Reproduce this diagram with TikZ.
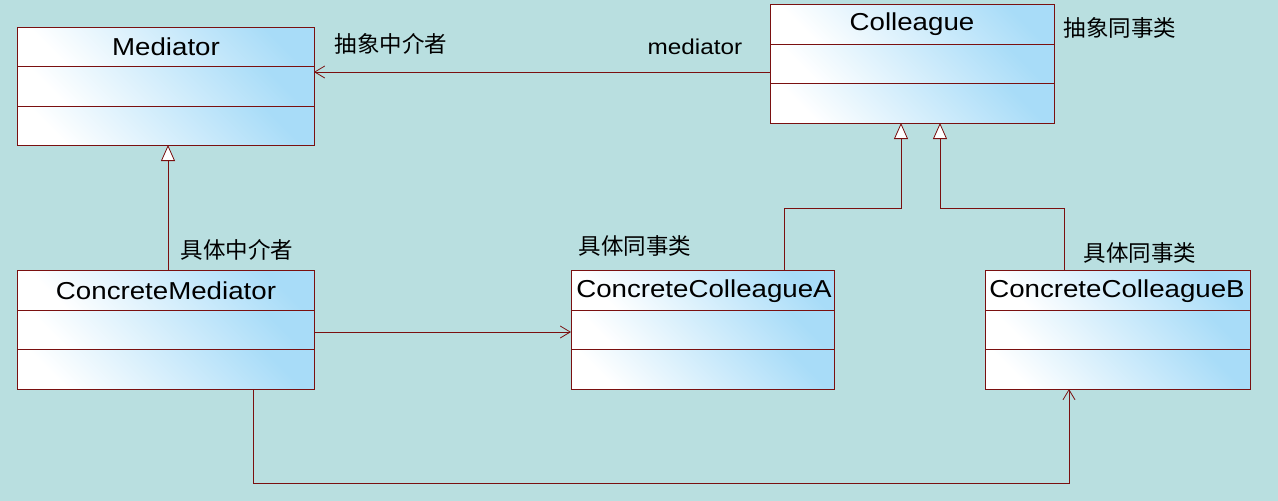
\documentclass[tikz,border=0pt]{standalone}
\usepackage{fontspec}
\setmainfont{Liberation Sans}[FakeStretch=1.13]
\newfontfamily\cjk{Noto Sans CJK SC}
\usetikzlibrary{arrows.meta}
\definecolor{bg}{HTML}{B9DFE0}
\definecolor{bd}{HTML}{7A1010}
\definecolor{lb}{HTML}{A8DCF8}
\tikzset{
  comp/.style={shade, left color=white, right color=lb, shading angle=135},
  cls/.style={draw=bd, line width=0.8pt, anchor=north west, inner sep=0pt},
  conn/.style={draw=bd, line width=0.8pt},
  gen/.style={conn, -{Triangle[open, length=16pt, width=14pt, fill=white]}},
  assoc/.style={conn, -{Straight Barb[length=10pt, width=12pt, line width=0.8pt]}},
  lbl/.style={font=\cjk\fontsize{22.5}{26}\selectfont, inner sep=0pt},
  ttl/.style={font=\fontsize{24.5}{27}\selectfont, inner sep=0pt}
}
\newcommand\umlcls[7]{%
  \fill[comp] (#2,#3) rectangle (#4,#6);
  \fill[comp] (#2,#6) rectangle (#4,#7);
  \fill[comp] (#2,#7) rectangle (#4,#5);
  \draw[bd, line width=0.8pt] (#2,#6) -- (#4,#6) (#2,#7) -- (#4,#7);
  \node[cls, minimum width={(#4-#2)*1pt}, minimum height={(#5-#3)*1pt}] (#1) at (#2,#3) {};
}
\begin{document}
\begin{tikzpicture}[x=1pt,y=-1pt]
\fill[bg] (0,0) rectangle (1278,501);
\useasboundingbox (0,0) rectangle (1278,501);
\umlcls{med}{17}{27}{314}{145}{66}{106}
\umlcls{col}{770}{4}{1054}{123}{44}{83}
\umlcls{cm}{17}{270}{314}{389}{310}{349}
\umlcls{cca}{571}{270}{834}{389}{310}{349}
\umlcls{ccb}{985}{270}{1250}{389}{310}{349}
\node[ttl] (tmed) at (166,47) {Mediator};
\node[ttl] (tcol) at (912,24) {Colleague};
\node[ttl] (tcm) at (166,291) {ConcreteMediator};
\node[ttl] (tcca) at (704,291) {ConcreteColleagueA};
\node[ttl] (tccb) at (1117,291) {ConcreteColleagueB};
\node[lbl] (l1) at (391,44) {抽象中介者};
\node[ttl, font=\fontsize{21.5}{24}\selectfont] (l2) at (695,47) {mediator};
\node[lbl] (l3) at (1120,28) {抽象同事类};
\node[lbl] (l4) at (237,250) {具体中介者};
\node[lbl] (l5) at (635,246) {具体同事类};
\node[lbl] (l6) at (1140,253) {具体同事类};
\coordinate (a1) at (770,72); \coordinate (a2) at (314,72);
\draw[assoc] (a1) -- (a2);
\draw[gen] (cm.north -| 168,0) -- (168,145);
\draw[gen] (784,270) -- (784,208) -- (901,208) -- (901,123);
\draw[gen] (1064,270) -- (1064,208) -- (940,208) -- (940,123);
\draw[assoc] (cm.east |- 0,332) -- (cca.west |- 0,332);
\draw[assoc] (253,389) -- (253,483) -- (1069,483) -- (1069,389);
\end{tikzpicture}
\end{document}
